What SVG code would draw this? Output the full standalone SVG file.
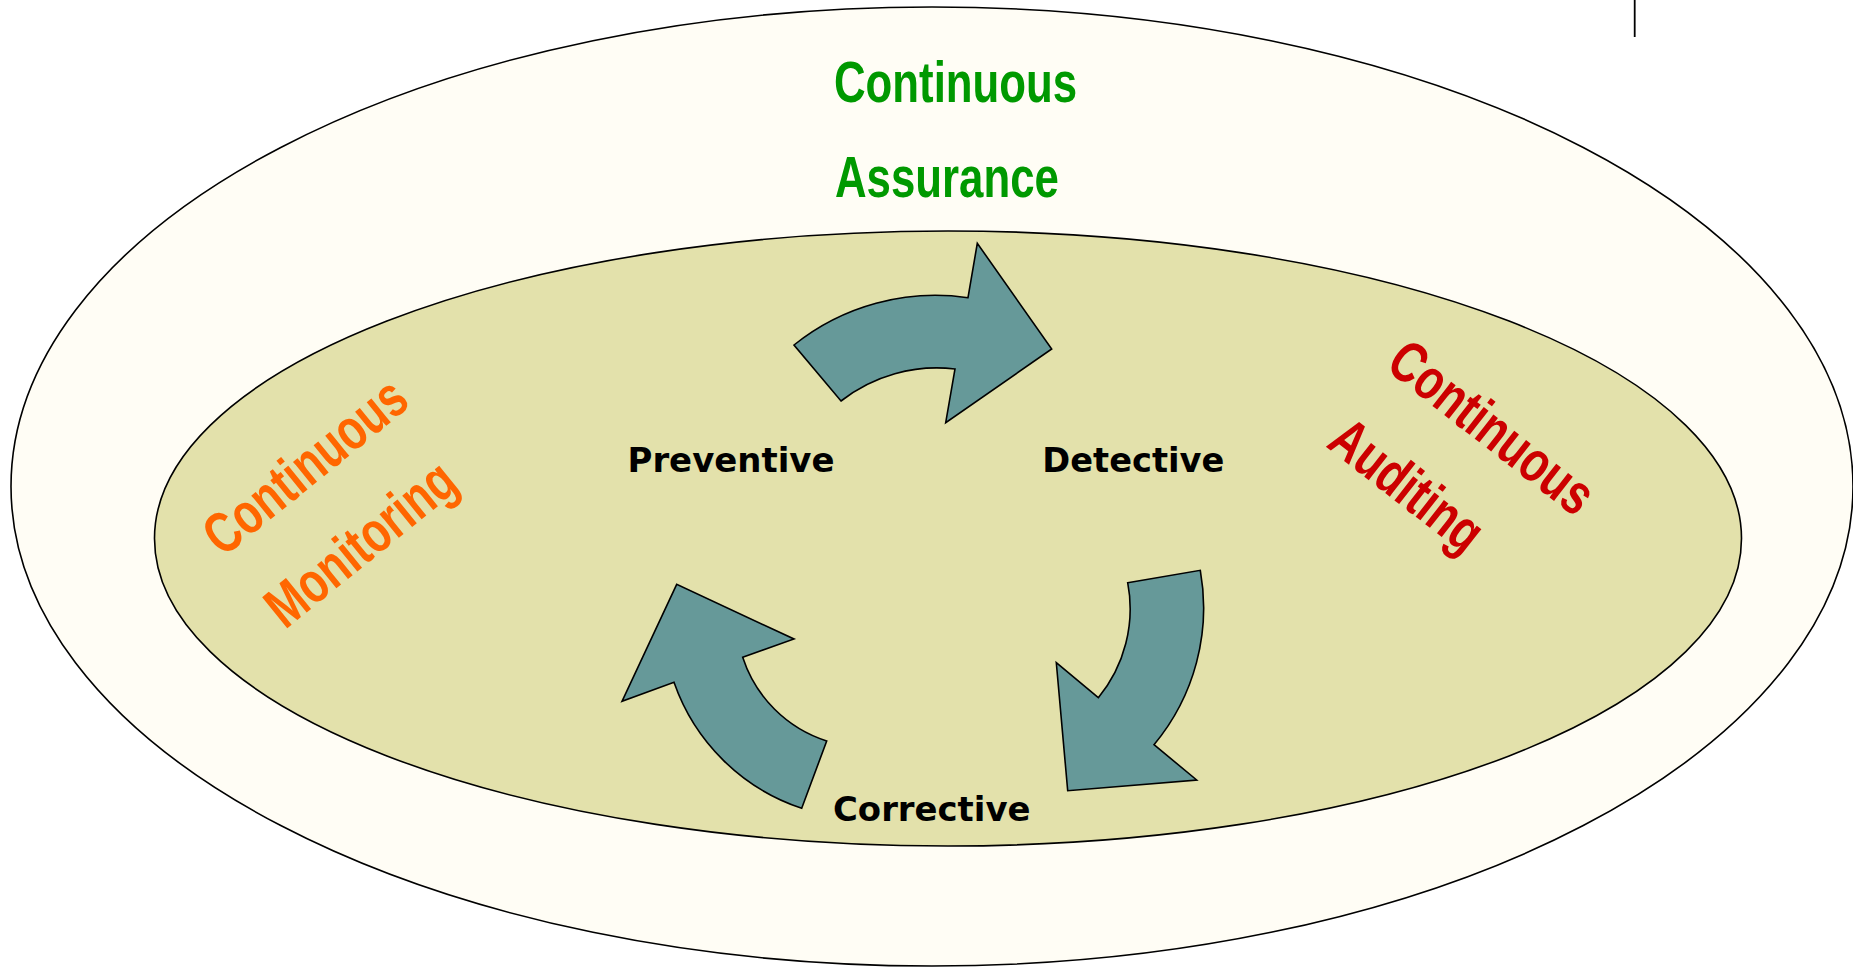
<svg xmlns="http://www.w3.org/2000/svg" width="1853" height="967" viewBox="0 0 1853 967">
  <style>
    .ell { stroke: #000; stroke-width: 1.6; }
    .arrow { fill: #669999; stroke: #000; stroke-width: 1.6; stroke-linejoin: miter; }
    .big { font-family: "Liberation Sans", Arial, sans-serif; font-weight: bold; font-size: 58px; }
    .lbl { font-family: "DejaVu Sans", Verdana, sans-serif; font-weight: bold; font-size: 34px; fill: #000; }
  </style>
  <rect x="0" y="0" width="1853" height="967" fill="#FFFFFF"/>
  <g id="assurance">
    <ellipse class="ell" cx="932" cy="486.5" rx="921" ry="479.5" fill="#FFFDF5"/>
    <text class="big" fill="#009900" transform="translate(834,102) scale(0.755,1)">Continuous</text>
    <text class="big" fill="#009900" transform="translate(835,197) scale(0.755,1)">Assurance</text>
  </g>
  <g id="inner-cycle">
    <ellipse class="ell" cx="948" cy="538.5" rx="793.5" ry="307.5" fill="#E3E1AB"/>
  </g>
  <g id="monitoring">
    <text class="big" fill="#FF6600" transform="translate(223,558) rotate(-39) scale(0.755,1)">Continuous</text>
    <text class="big" fill="#FF6600" transform="translate(285,630) rotate(-39) scale(0.755,1)">Monitoring</text>
  </g>
  <g id="auditing">
    <text class="big" fill="#CC0000" transform="translate(1384,368) rotate(38) scale(0.755,1)">Continuous</text>
    <text class="big" fill="#CC0000" transform="translate(1325,446) rotate(38) scale(0.755,1)">Auditing</text>
  </g>
  <g id="preventive">
    <text class="lbl" x="627.5" y="471.5" textLength="207" lengthAdjust="spacingAndGlyphs">Preventive</text>
  </g>
  <g id="detective">
    <text class="lbl" x="1042.3" y="471.5" textLength="182" lengthAdjust="spacingAndGlyphs">Detective</text>
  </g>
  <g id="corrective">
    <text class="lbl" x="833" y="821" textLength="197.5" lengthAdjust="spacingAndGlyphs">Corrective</text>
  </g>
  <g id="connectors">
    <path class="arrow" d="M 794,345 A 226 226 0 0 1 968,297.7 L 977.3,243.3 L 1051.7,349 L 945.7,422.7 L 955,369 A 155 155 0 0 0 841,401 Z"/>
    <path class="arrow" d="M 1127.7,582.7 L 1200.3,570.3 A 213.5 213.5 0 0 1 1154,744.7 L 1196.7,780 L 1067.7,790.7 L 1056.3,662.7 L 1098.3,697.7 A 140 140 0 0 0 1127.7,582.7 Z"/>
    <path class="arrow" d="M 801.7,808.3 L 826.7,741 A 130 130 0 0 1 742.7,657.3 L 794,639 L 676.7,584.3 L 622,701.3 L 674,682.3 A 203 203 0 0 0 801.7,808.3 Z"/>
  </g>
  <line x1="1634.7" y1="0" x2="1634.7" y2="37" stroke="#000" stroke-width="1.8"/>
</svg>
